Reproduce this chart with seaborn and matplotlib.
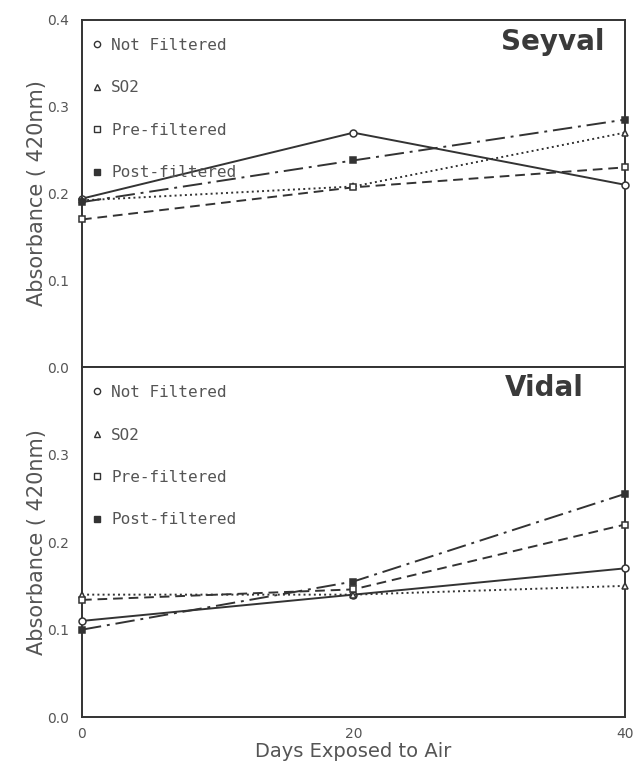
import matplotlib
matplotlib.use("Agg")
import matplotlib.pyplot as plt
from matplotlib.lines import Line2D
import seaborn as sns
import pandas as pd

days = [0, 20, 40]
treatments = ["Not Filtered", "SO2", "Pre-filtered", "Post-filtered"]

seyval_not_filtered = [0.194, 0.270, 0.210]
seyval_so2 = [0.192, 0.208, 0.270]
seyval_pre_filtered = [0.170, 0.207, 0.230]
seyval_post_filtered = [0.190, 0.238, 0.285]

vidal_not_filtered = [0.110, 0.140, 0.170]
vidal_so2 = [0.140, 0.140, 0.150]
vidal_pre_filtered = [0.134, 0.146, 0.220]
vidal_post_filtered = [0.100, 0.155, 0.255]

panels = {
    "Seyval": [seyval_not_filtered, seyval_so2, seyval_pre_filtered, seyval_post_filtered],
    "Vidal": [vidal_not_filtered, vidal_so2, vidal_pre_filtered, vidal_post_filtered],
}

y_ticks = [0.0, 0.1, 0.2, 0.3, 0.4]
y_ticklabels = ["0.0", "0.1", "0.2", "0.3", "0.4"]
x_ticks = [0, 20, 40]

sns.set_theme(style="white")
plt.rcParams["font.family"] = ["DejaVu Sans"]

styles = {
    "Not Filtered": dict(marker="o", linestyle="-", mfc="white"),
    "SO2": dict(marker="^", linestyle=":", mfc="white"),
    "Pre-filtered": dict(marker="s", linestyle=(0, (5, 3)), mfc="white"),
    "Post-filtered": dict(marker="s", linestyle=(0, (10, 3, 1.5, 3)), mfc="#333333"),
}

ink = "#333333"
txt = "#555555"

fig = plt.figure(figsize=(6.33, 7.63), dpi=100)
ax_top = fig.add_axes([0.1295, 0.519, 0.8575, 0.455])
ax_bot = fig.add_axes([0.1295, 0.060, 0.8575, 0.459])

title_pos = {"Seyval": (0.963, 0.935), "Vidal": (0.925, 0.94)}

for ax, (name, series) in zip([ax_top, ax_bot], panels.items()):
    rows = []
    for t, vals in zip(treatments, series):
        for d, v in zip(days, vals):
            rows.append({"Days": d, "Absorbance": v, "Treatment": t})
    df = pd.DataFrame(rows)
    for t in treatments:
        sub = df[df["Treatment"] == t]
        sns.lineplot(data=sub, x="Days", y="Absorbance", ax=ax, color=ink,
                     linewidth=1.4, markersize=5, mec=ink, mew=1.1,
                     clip_on=False, zorder=3, **styles[t])
    ax.set_xlim(0, 40)
    ax.set_ylim(0, 0.4)
    ax.set_yticks(y_ticks)
    ax.set_xticks(x_ticks)
    ax.tick_params(direction="in", length=4, width=1, colors=ink,
                   labelcolor=txt, labelsize=10)
    ax.tick_params(axis="y", pad=9)
    ax.tick_params(axis="x", pad=7)
    for sp in ax.spines.values():
        sp.set_color(ink)
        sp.set_linewidth(1.4)
    ax.set_ylabel("Absorbance ( 420nm)", fontsize=15, color=txt, labelpad=0)
    ax.set_xlabel("")
    tx_, ty_ = title_pos[name]
    ax.text(tx_, ty_, name, transform=ax.transAxes, ha="right", va="center",
            fontsize=20, fontweight="bold", color="#3a3a3a")
    handles = [Line2D([], [], linestyle="none", color=ink, mec=ink, mew=1.0,
                      markersize=4.5, marker=styles[t]["marker"],
                      mfc=styles[t]["mfc"]) for t in treatments]
    leg = ax.legend(handles, treatments, loc="upper left", frameon=False,
                    handlelength=0.6, handletextpad=0.6, labelspacing=1.72,
                    bbox_to_anchor=(-0.005, 0.985), borderaxespad=0.4,
                    prop={"family": "DejaVu Sans Mono", "size": 11.5})
    for tx in leg.get_texts():
        tx.set_color(txt)

ax_top.set_yticklabels(y_ticklabels)
ax_top.tick_params(axis="x", labelbottom=False)
ax_bot.set_yticklabels(y_ticklabels[:-1] + [""])
ax_bot.set_xticklabels([str(x) for x in x_ticks])
ax_bot.set_xlabel("Days Exposed to Air", fontsize=14, color=txt, labelpad=1)

fig.savefig("out.png", dpi=100, facecolor="white")
